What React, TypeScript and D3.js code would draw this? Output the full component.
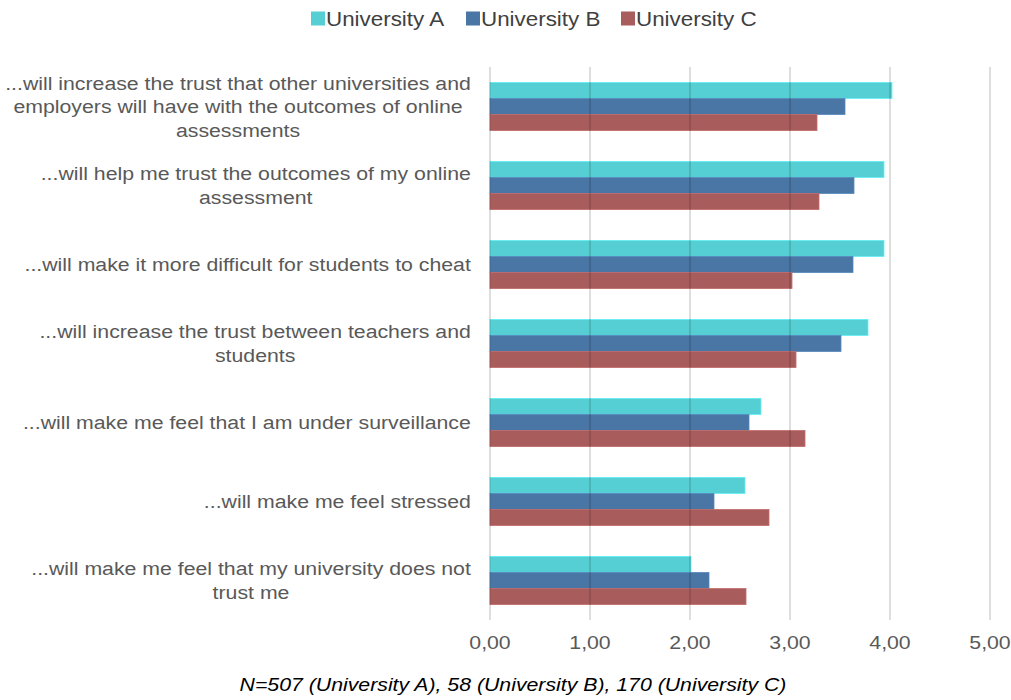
import React from "react";
import * as d3 from "d3";

const categories: string[][] = [
  ["...will increase the trust that other universities and", "employers will have with the outcomes of online", "assessments"],
  ["...will help me trust the outcomes of my online", "assessment"],
  ["...will make it more difficult for students to cheat"],
  ["...will increase the trust between teachers and", "students"],
  ["...will make me feel that I am under surveillance"],
  ["...will make me feel stressed"],
  ["...will make me feel that my university does not", "trust me"],
];
const seriesNames = ["University A", "University B", "University C"];
const uniA = [4.02, 3.94, 3.94, 3.78, 2.71, 2.55, 2.01];
const uniB = [3.55, 3.64, 3.63, 3.51, 2.59, 2.24, 2.19];
const uniC = [3.27, 3.29, 3.02, 3.06, 3.15, 2.79, 2.56];
const seriesValues = [uniA, uniB, uniC];
const colors = ["#55cfd4", "#4a76a5", "#a85d5c"];
const ticks = [0, 1, 2, 3, 4, 5];
const footnote = "N=507 (University A), 58 (University B), 170 (University C)";

const FONT = "'Liberation Sans', Arial, sans-serif";
const SX = 1.12;
let ctx: CanvasRenderingContext2D | null = null;
function measure(t: string, size: number) {
  if (!ctx) ctx = document.createElement("canvas").getContext("2d");
  if (!ctx) return t.length * size * 0.5;
  ctx.font = `${size}px 'Liberation Sans'`;
  return ctx.measureText(t).width;
}

export default function App() {
  const W = 1011, H = 700;
  const left = 490, right = 990, top = 67, bottom = 620;
  const x = d3.scaleLinear().domain([0, 5]).range([left, right]);
  const y0 = d3.scaleBand<number>().domain(d3.range(categories.length)).range([top, bottom]).paddingInner(0.39).paddingOuter(0.195);
  const y1 = d3.scaleBand<number>().domain([0, 1, 2]).range([0, y0.bandwidth()]);
  const fmt = (v: number) => v.toFixed(2).replace(".", ",");
  const legendX = [311, 466, 621];
  const LS = 19;
  return (
    <svg width={W} height={H} style={{ position: "absolute", left: 0, top: 0 }} fontFamily={FONT}>
      <rect width={W} height={H} fill="#fff" />
      {categories.map((lines, i) => {
        const cy = (y0(i) as number) + y0.bandwidth() / 2;
        const lh = 23.5;
        const maxW = Math.max(...lines.map((l) => measure(l, LS))) * SX;
        const cx = 471 - maxW / 2;
        return (
          <g key={i} transform={`translate(${cx},0) scale(${SX},1)`}>
            <text fontSize={LS} fill="#595959" textAnchor="middle">
              {lines.map((l, j) => (
                <tspan key={j} x={0} y={cy + (j - (lines.length - 1) / 2) * lh} dy="0.35em">{l}</tspan>
              ))}
            </text>
          </g>
        );
      })}
      {seriesValues.map((vals, s) =>
        vals.map((v, i) => (
          <rect key={s + "-" + i} x={x(0)} y={(y0(i) as number) + (y1(s) as number)} width={x(v) - x(0)} height={y1.bandwidth()}
            fill={colors[s]} stroke={d3.color(colors[s])!.brighter(0.4).formatHex()} strokeWidth={0.8} />
        ))
      )}
      {ticks.map((t) => (
        <line key={t} x1={x(t)} x2={x(t)} y1={top} y2={bottom} stroke="rgba(0,0,0,0.13)" strokeWidth={2} />
      ))}
      {ticks.map((t) => (
        <g key={"t" + t} transform={`translate(${x(t)},642) scale(${SX},1)`}>
          <text x={0} y={0} dy="0.35em" textAnchor="middle" fontSize={19} fill="#595959">{fmt(t)}</text>
        </g>
      ))}
      {seriesNames.map((n, s) => (
        <g key={n}>
          <rect x={legendX[s]} y={11.5} width={14} height={14} fill={colors[s]} />
          <g transform={`translate(${legendX[s] + 15},18.5) scale(${SX},1)`}>
            <text x={0} y={0} dy="0.35em" fontSize={20} fill="#404040">{n}</text>
          </g>
        </g>
      ))}
      <g transform={`translate(513,684) scale(${SX},1)`}>
        <text x={0} y={0} dy="0.35em" textAnchor="middle" fontSize={19} fontStyle="italic" fill="#000">{footnote}</text>
      </g>
    </svg>
  );
}
